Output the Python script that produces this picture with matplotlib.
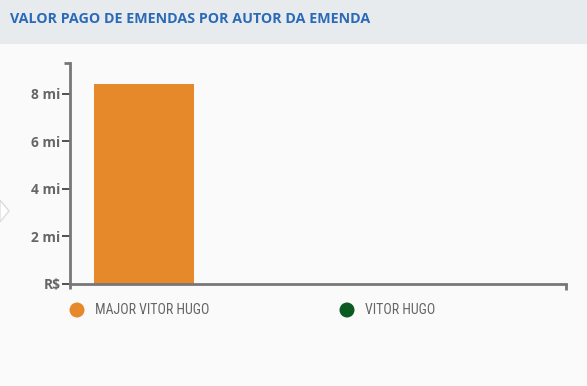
"""
Valor pago de emendas por autor (bar chart with round-marker legend)
"""

import numpy as np
import matplotlib
matplotlib.use("Agg")
import matplotlib.pyplot as plt
from matplotlib.patches import Rectangle, Polygon, Ellipse

autores = ["MAJOR VITOR HUGO", "VITOR HUGO"]
valores = [8.41e6, 0.0]          # R$
cores = ["#e6892a", "#0b5a22"]
yticks = [0, 2e6, 4e6, 6e6, 8e6]
ytick_labels = ["R$", "2 mi", "4 mi", "6 mi", "8 mi"]
titulo = "VALOR PAGO DE EMENDAS POR AUTOR DA EMENDA"

W, H = 587, 386
bg = "#fafafa"
axis_gray = "#777777"
text_gray = "#666666"

fig = plt.figure(figsize=(W / 100, H / 100), dpi=100, facecolor=bg)

### Header band
fig.patches.append(Rectangle((0, 1 - 44 / H), 1, 44 / H, transform=fig.transFigure,
                             facecolor="#e8ebee", edgecolor="none", zorder=0))
fig.text(10 / W, 1 - 19 / H, titulo, fontsize=10.3, fontweight="bold", family="Open Sans",
         color="#2a6ab7", ha="left", va="center")

# little tooltip arrow on the left edge
fig.patches.append(Polygon([(0, 1 - 200 / H), (9 / W, 1 - 211 / H), (0, 1 - 222 / H)],
                           closed=True, transform=fig.transFigure,
                           facecolor="white", edgecolor="#dddddd", lw=1))

### Plot area
x0, x1, y_top, y_bot = 70, 566, 63, 284
ax = fig.add_axes([x0 / W, 1 - y_bot / H, (x1 - x0) / W, (y_bot - y_top) / H])
ax.set_facecolor("none")

width = 1.0
pos = np.arange(len(autores)) * width - width / 2
for p, v, c in zip(pos, valores, cores):
    ax.bar(p, v, width=width, color=c, align="center", zorder=2)

ax.set_xlim(-1.24, 3.72)
ax.set_ylim(0, 9.3e6)

for s in ["top", "right"]:
    ax.spines[s].set_visible(False)
for s in ["left", "bottom"]:
    ax.spines[s].set_color(axis_gray)
    ax.spines[s].set_linewidth(2)

ax.set_xticks([])
ax.set_yticks(yticks)
ax.set_yticklabels(ytick_labels, fontsize=9.9, fontweight="bold", family="Open Sans",
                   color=text_gray)
ax.tick_params(axis="y", length=6, width=1.2, color="#333333", pad=1)

# domain end caps
ax.plot([0, -6 / (x1 - x0)], [1, 1], transform=ax.transAxes, color=axis_gray, lw=2,
        clip_on=False, solid_capstyle="butt")
ax.plot([0, 0], [0, -5 / (y_bot - y_top)], transform=ax.transAxes, color=axis_gray, lw=2,
        clip_on=False, solid_capstyle="butt")
ax.plot([1, 1], [0, -6 / (y_bot - y_top)], transform=ax.transAxes, color=axis_gray, lw=2,
        clip_on=False, solid_capstyle="butt")

### Legend
leg_x = [77, 347]
for lx, nome, c in zip(leg_x, autores, cores):
    fig.patches.append(Ellipse((lx / W, 1 - 310 / H), 15 / W, 15 / H,
                               transform=fig.transFigure, facecolor=c, edgecolor="none"))
    fig.text((lx + 18) / W, 1 - 310 / H, nome, fontsize=10, family="Roboto Condensed",
             color=text_gray, ha="left", va="center")

plt.savefig("out.png", dpi=100, facecolor=bg)
